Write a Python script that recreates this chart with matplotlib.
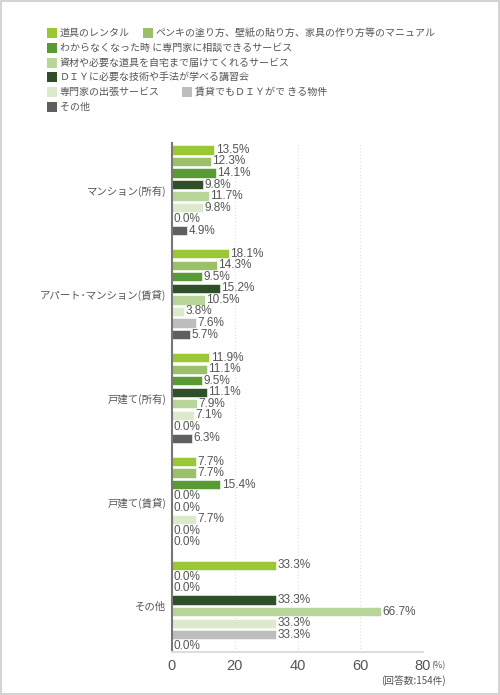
import matplotlib
matplotlib.use("Agg")
import matplotlib.pyplot as plt
from matplotlib.patches import Rectangle

plt.rcParams['font.family'] = ['Noto Sans CJK JP', 'DejaVu Sans']

# ---------------------------------
# DATA
# ---------------------------------
categories = ["マンション(所有)", "アパート･マンション(賃貸)", "戸建て(所有)",
              "戸建て(賃貸)", "その他"]

series_names = [
    "道具のレンタル",
    "ペンキの塗り方、壁紙の貼り方、家具の作り方等のマニュアル",
    "わからなくなった時 に専門家に相談できるサービス",
    "ＤＩＹに必要な技術や手法が学べる講習会",
    "資材や必要な道具を自宅まで届けてくれるサービス",
    "専門家の出張サービス",
    "賃貸でもＤＩＹがで きる物件",
    "その他",
]

# values[category][series]
values = [
    [13.5, 12.3, 14.1, 9.8, 11.7, 9.8, 0.0, 4.9],
    [18.1, 14.3, 9.5, 15.2, 10.5, 3.8, 7.6, 5.7],
    [11.9, 11.1, 9.5, 11.1, 7.9, 7.1, 0.0, 6.3],
    [7.7, 7.7, 15.4, 0.0, 0.0, 7.7, 0.0, 0.0],
    [33.3, 0.0, 0.0, 33.3, 66.7, 33.3, 33.3, 0.0],
]

colors = ["#9ac834", "#9cc06a", "#5a9a35", "#2e4f27",
          "#b8d59a", "#dde9cc", "#bdbdbd", "#5f5f5f"]

x_ticks = [0, 20, 40, 60, 80]

# legend layout: rows of series indices (legend order differs from bar order)
legend_rows = [[0, 1], [2], [4], [3], [5, 6], [7]]

text_color = "#555555"
num_font = ['Liberation Sans', 'DejaVu Sans']

# ---------------------------------
# FIGURE
# ---------------------------------
fig = plt.figure(figsize=(5.0, 6.95), dpi=100)
fig.patches.append(Rectangle((0.002, 0.002), 0.996, 0.996, transform=fig.transFigure,
                             fill=False, edgecolor="#cccccc", linewidth=1.2))

ax = fig.add_axes([0.344, 0.0619, 0.502, 0.7324])

n_series = len(series_names)
group_step = n_series + 1
for gi, row in enumerate(values):
    for si, v in enumerate(row):
        y = gi * group_step + si
        ax.barh(y, v, height=0.8, color=colors[si], edgecolor="white", linewidth=0.4)
        ax.text(v + 0.4, y, f"{v:.1f}%", va="center", ha="left", fontsize=8.5,
                color=text_color, family=num_font)

ax.set_xlim(0, 80)
last = (len(categories) - 1) * group_step + n_series - 1
ax.set_ylim(last + 0.5, -0.6)

ax.set_yticks([gi * group_step + (n_series - 1) / 2 for gi in range(len(categories))])
ax.set_yticklabels(categories, fontsize=7.5, color=text_color)
ax.tick_params(axis="y", length=0, pad=4)

ax.set_xticks(x_ticks)
ax.set_xticklabels([str(t) for t in x_ticks], fontsize=10.5, color=text_color,
                   family=num_font)
ax.tick_params(axis="x", length=0, pad=5)

for t in x_ticks[1:-1]:
    ax.axvline(t, color="#e0e0e0", linestyle=(0, (1, 2)), linewidth=0.8, zorder=0)

for s in ["top", "right"]:
    ax.spines[s].set_visible(False)
ax.spines["left"].set_color("#777777")
ax.spines["left"].set_linewidth(1.5)
ax.spines["bottom"].set_color("#dddddd")
ax.spines["bottom"].set_linewidth(1.5)

fig.text(0.862, 0.0425, "(%)", fontsize=6.5, color=text_color, ha="left", va="center")
fig.text(0.892, 0.0205, "(回答数:154件)", fontsize=7, color=text_color,
         ha="right", va="center")

# ---------------------------------
# LEGEND
# ---------------------------------
row_y = [33, 48, 63, 77, 92, 107]
second_x = {0: 143, 4: 182}
box = 10
for ri, row in enumerate(legend_rows):
    for k, si in enumerate(row):
        x_px = 47 if k == 0 else second_x[ri]
        y_px = row_y[ri]
        fig.patches.append(Rectangle((x_px / 500, 1 - (y_px + box / 2) / 695),
                                     box / 500, box / 695, transform=fig.transFigure,
                                     facecolor=colors[si], edgecolor="none"))
        fig.text((x_px + box + 3) / 500, 1 - y_px / 695, series_names[si],
                 fontsize=7.2, color=text_color, ha="left", va="center")

fig.savefig("out.png", dpi=100)
